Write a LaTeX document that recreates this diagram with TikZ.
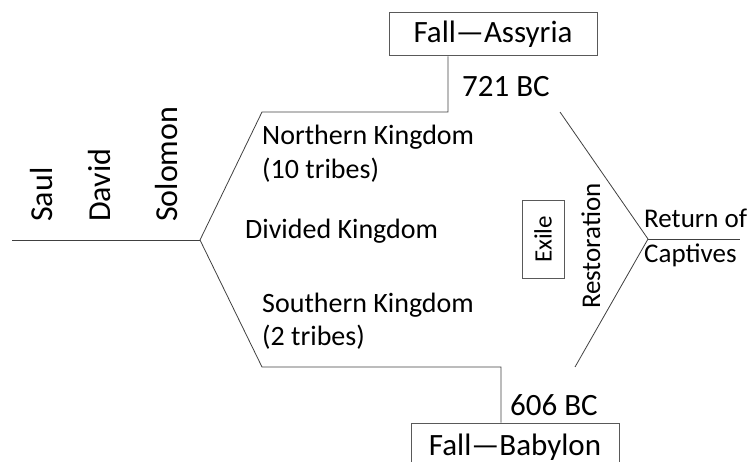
\documentclass[tikz,border=0pt]{standalone}
\usepackage{fontspec}
\setmainfont{Carlito}
\begin{document}
\begin{tikzpicture}[x=1pt,y=-1pt,
  ln/.style={draw=black!75, line width=0.8pt},
  bx/.style={draw=black!65, line width=1pt, inner sep=0pt},
  body/.style={inner sep=0pt, font=\fontsize{28}{33}\selectfont},
  big/.style={inner sep=0pt, font=\fontsize{31}{36}\selectfont},
  king/.style={inner sep=0pt, font=\fontsize{32}{36}\selectfont, rotate=90, anchor=base west}]
\useasboundingbox (0,0) rectangle (754,462);
% boxes
\node[bx, big, minimum width=208pt, minimum height=43pt] (assyria) at (493,34.5) {\raisebox{-2pt}{Fall—Assyria}};
\node[bx, big, minimum width=208pt, minimum height=48pt] (babylon) at (515,447) {\raisebox{1pt}{Fall—Babylon}};
\node[bx, body, font=\fontsize{25}{30}\selectfont, rotate=90, minimum width=77pt, minimum height=42pt] (exile) at (543,239.5) {Exile};
% kings
\node[king] (saul) at (52,222) {Saul};
\node[king] (david) at (110,222) {David};
\node[king] (solomon) at (177,222) {Solomon};
% labels
\node[body, anchor=base west] (north) at (262,145) {Northern Kingdom};
\node[body, anchor=base west] (north2) at (262,179) {(10 tribes)};
\node[body, anchor=base west] (divided) at (245,238) {Divided Kingdom};
\node[body, anchor=base west] (south) at (262,312) {Southern Kingdom};
\node[body, anchor=base west] (south2) at (262,345) {(2 tribes)};
\node[big, anchor=base west] (bc721) at (462,97) {721 BC};
\node[big, anchor=base west] (bc606) at (510,415) {606 BC};
\node[body, font=\fontsize{27}{32}\selectfont, rotate=90, anchor=base] (restor) at (600,246) {Restoration};
\node[body, font=\fontsize{27}{32}\selectfont, anchor=base west] (ret1) at (644,228) {Return of};
\node[body, font=\fontsize{27}{32}\selectfont, anchor=base west] (ret2) at (644,262) {Captives};
% coordinates
\coordinate (start) at (12,240);
\coordinate (split) at (200,240);
\coordinate (nw) at (262,112);
\coordinate (ne) at (448,112);
\coordinate (sw) at (262,367);
\coordinate (se) at (501,367);
\coordinate (rtop) at (560,112);
\coordinate (join) at (648,239);
\coordinate (rbot) at (575,367);
\coordinate (rend) at (740,239);
% connectors
\draw[ln] (start) -- (split);
\draw[ln] (split) -- (nw) -- (ne) -- (ne |- assyria.south);
\draw[ln] (split) -- (sw) -- (se) -- (se |- babylon.north);
\draw[ln] (rtop) -- (join) -- (rbot);
\draw[ln] (join) -- (rend);
\end{tikzpicture}
\end{document}
